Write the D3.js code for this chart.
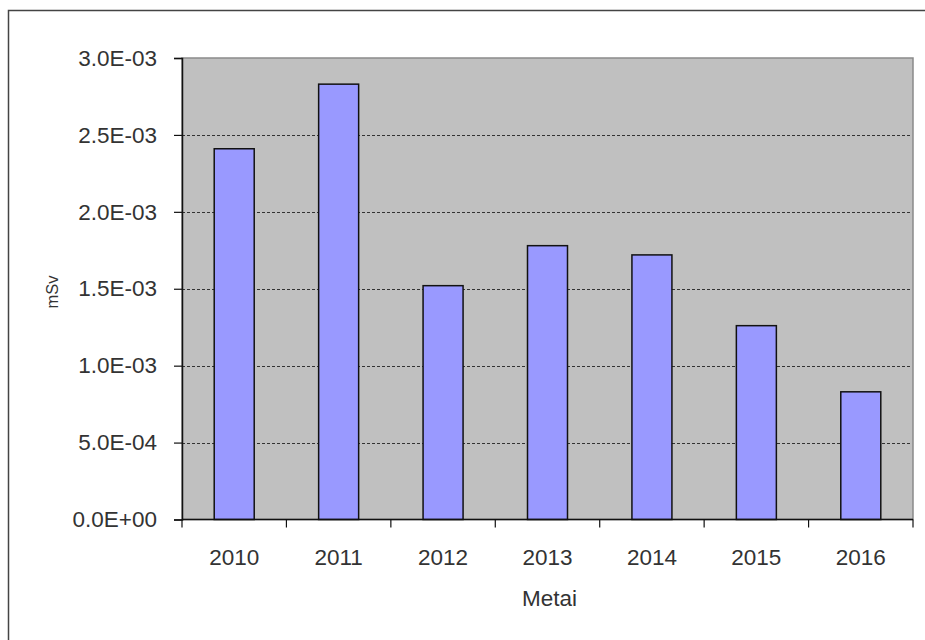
<!DOCTYPE html>
<html>
<head>
<meta charset="utf-8">
<script src="https://cdn.jsdelivr.net/npm/d3@7"></script>
<style>
  body { margin: 0; background: #fff; }
  svg { display: block; font-family: "Liberation Sans", Arial, sans-serif; }
</style>
</head>
<body>
<div id="chart"></div>
<script>
const width = 925;
const height = 640;

// years and dose values (mSv)
const years = ['2010', '2011', '2012', '2013', '2014', '2015', '2016'];
const doses = [2.41e-3, 2.83e-3, 1.52e-3, 1.78e-3, 1.72e-3, 1.26e-3, 8.3e-4];
const yTicks = [0, 5e-4, 1e-3, 1.5e-3, 2e-3, 2.5e-3, 3e-3];
const yLabels = ['0.0E+00', '5.0E-04', '1.0E-03', '1.5E-03', '2.0E-03', '2.5E-03', '3.0E-03'];

const plot = { left: 182, right: 913, top: 58, bottom: 519.5 };
const textColor = '#333';

const svg = d3.select('#chart')
    .append('svg')
    .attr('width', width)
    .attr('height', height)

// outer chart frame (runs off the right / bottom of the shot)
svg.append('rect')
    .attr('x', 8.5)
    .attr('y', 10.5)
    .attr('width', 960)
    .attr('height', 700)
    .attr('fill', '#fff')
    .attr('stroke', '#444')
    .attr('stroke-width', 1.5)

const xCat = d3.scaleBand()
    .domain(years)
    .range([plot.left, plot.right])

const y = d3.scaleLinear()
    .domain([0, 3e-3])
    .range([plot.bottom, plot.top])

// plot area
svg.append('rect')
    .attr('x', plot.left)
    .attr('y', plot.top)
    .attr('width', plot.right - plot.left)
    .attr('height', plot.bottom - plot.top)
    .attr('fill', '#c0c0c0')
    .attr('stroke', '#8a8a8a')
    .attr('stroke-width', 1.5)

// dashed gridlines
svg.append('g')
    .selectAll('line')
    .data(yTicks.filter(d => d > 0 && d < 3e-3))
    .enter()
    .append('line')
    .attr('x1', plot.left)
    .attr('x2', plot.right - 1)
    .attr('y1', d => Math.round(y(d)) + 0.5)
    .attr('y2', d => Math.round(y(d)) + 0.5)
    .attr('stroke', '#333')
    .attr('stroke-width', 1)
    .attr('stroke-dasharray', '3,2')

// bars
const barW = 40
svg.append('g')
    .selectAll('rect')
    .data(doses)
    .enter()
    .append('rect')
    .attr('x', (d, i) => xCat(years[i]) + (xCat.bandwidth() - barW) / 2)
    .attr('y', d => y(d))
    .attr('width', barW)
    .attr('height', d => y(0) - y(d))
    .attr('fill', '#9999ff')
    .attr('stroke', '#111')
    .attr('stroke-width', 1.5)

// y axis
const yAxis = d3.axisLeft(y)
    .tickValues(yTicks)
    .tickFormat((d, i) => yLabels[i])
    .tickSize(8)
    .tickPadding(17)

const gy = svg.append('g')
    .attr('transform', `translate(${plot.left},0)`)
    .call(yAxis)
gy.select('.domain').attr('stroke', '#111').attr('stroke-width', 1.5)
gy.selectAll('.tick line').attr('stroke', '#111').attr('stroke-width', 1.2)
gy.selectAll('.tick text')
    .attr('font-size', 22.5)
    .attr('fill', textColor)
    .attr('font-family', '"Liberation Sans", Arial, sans-serif')

// x axis: ticks sit between categories
const boundaries = years.map(d => xCat(d)).concat([plot.right])
const gx = svg.append('g')
gx.append('line')
    .attr('x1', plot.left)
    .attr('x2', plot.right)
    .attr('y1', plot.bottom)
    .attr('y2', plot.bottom)
    .attr('stroke', '#111')
    .attr('stroke-width', 1.5)
gx.selectAll('.tk')
    .data(boundaries)
    .enter()
    .append('line')
    .attr('x1', d => d)
    .attr('x2', d => d)
    .attr('y1', plot.bottom)
    .attr('y2', plot.bottom + 8)
    .attr('stroke', '#111')
    .attr('stroke-width', 1.2)
gx.selectAll('text')
    .data(years)
    .enter()
    .append('text')
    .attr('x', d => xCat(d) + xCat.bandwidth() / 2)
    .attr('y', 565)
    .attr('text-anchor', 'middle')
    .attr('font-size', 22.5)
    .attr('fill', textColor)
    .text(d => d)

// axis titles
svg.append('text')
    .attr('x', (plot.left + plot.right) / 2 + 2)
    .attr('y', 606)
    .attr('text-anchor', 'middle')
    .attr('font-size', 22.5)
    .attr('fill', textColor)
    .text('Metai')

svg.append('text')
    .attr('transform', 'translate(58,292) rotate(-90)')
    .attr('text-anchor', 'middle')
    .attr('font-size', 16.5)
    .attr('fill', textColor)
    .text('mSv')
</script>
</body>
</html>
